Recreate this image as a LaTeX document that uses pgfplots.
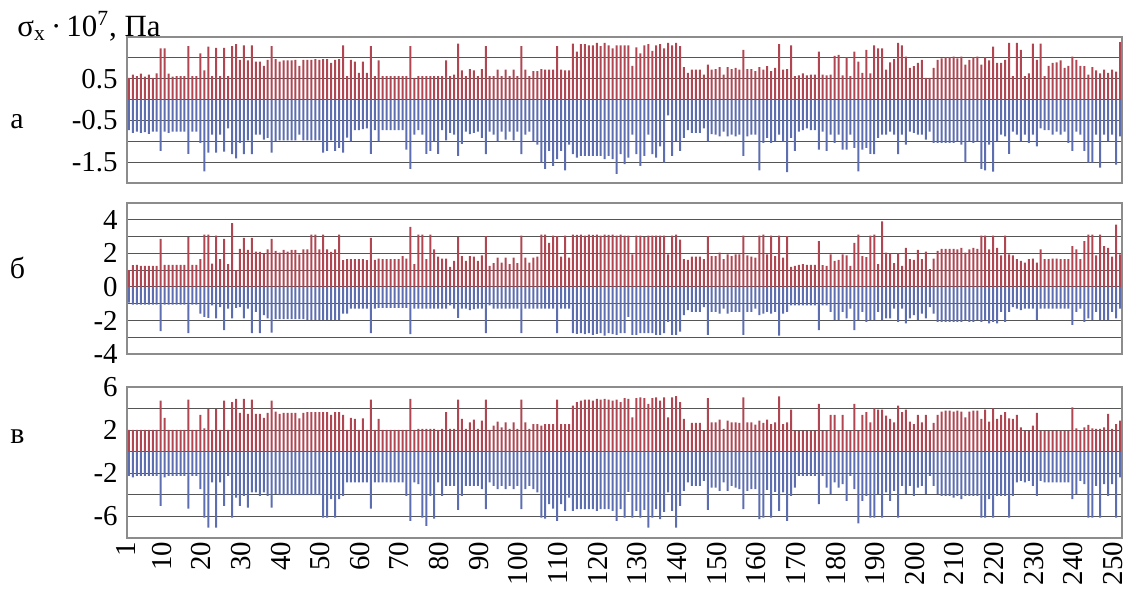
\documentclass[border=0pt]{standalone}
\usepackage{fontspec}
\setmainfont{Liberation Serif}
\usepackage{pgfplots}
\usepackage{pgfplotstable}
\pgfplotsset{compat=1.18}
\definecolor{barred}{RGB}{176,70,82}
\definecolor{barblue}{RGB}{92,110,176}
\definecolor{gridc}{RGB}{85,85,85}
\definecolor{framec}{RGB}{140,140,140}

\pgfplotstableread{
x p n
1 0.52 -0.73
2 0.60 -0.80
3 0.56 -0.77
4 0.62 -0.80
5 0.55 -0.78
6 0.60 -0.82
7 0.52 -0.77
8 0.63 -0.77
9 1.23 -1.23
10 1.23 -0.77
11 0.62 -0.80
12 0.55 -0.77
13 0.56 -0.77
14 0.56 -0.77
15 0.56 -0.77
16 1.28 -1.30
17 0.56 -0.77
18 0.56 -0.77
19 1.11 -1.04
20 0.70 -1.72
21 1.27 -1.27
22 0.56 -0.84
23 1.24 -1.27
24 0.56 -0.84
25 1.24 -1.25
26 0.56 -0.69
27 1.28 -1.31
28 1.33 -1.41
29 0.95 -1.04
30 1.30 -1.31
31 0.94 -0.98
32 1.30 -1.31
33 0.91 -0.84
34 0.91 -0.84
35 0.81 -0.96
36 0.95 -0.92
37 1.28 -1.27
38 0.97 -1.00
39 0.91 -0.98
40 0.94 -0.98
41 0.94 -0.98
42 0.94 -0.98
43 0.95 -0.98
44 0.81 -0.84
45 0.95 -0.98
46 0.95 -0.98
47 0.95 -0.98
48 0.97 -0.98
49 0.95 -0.98
50 0.97 -1.27
51 0.97 -1.23
52 0.88 -0.98
53 0.95 -1.23
54 0.97 -1.16
55 1.30 -1.27
56 0.56 -0.91
57 0.95 -1.00
58 0.91 -0.73
59 0.64 -0.73
60 0.91 -0.71
61 0.64 -0.69
62 1.28 -1.30
63 0.56 -0.73
64 0.94 -1.00
65 0.56 -0.73
66 0.56 -0.73
67 0.56 -0.73
68 0.56 -0.73
69 0.56 -0.73
70 0.56 -0.73
71 0.56 -1.20
72 1.28 -1.66
73 0.52 -0.84
74 0.56 -0.73
75 0.56 -0.84
76 0.56 -1.30
77 0.56 -1.23
78 0.56 -1.00
79 0.56 -1.30
80 0.56 -0.73
81 0.94 -0.98
82 0.56 -0.80
83 0.60 -0.84
84 1.34 -1.35
85 0.70 -1.06
86 0.56 -0.77
87 0.73 -0.83
88 0.70 -0.80
89 0.56 -0.77
90 0.73 -0.92
91 1.28 -1.31
92 0.56 -0.77
93 0.56 -0.84
94 0.72 -1.00
95 0.56 -0.77
96 0.72 -0.96
97 0.56 -0.77
98 0.72 -0.98
99 0.56 -0.77
100 1.28 -1.31
101 0.72 -0.84
102 0.56 -0.77
103 0.68 -1.00
104 0.68 -1.08
105 0.73 -1.51
106 0.72 -1.66
107 0.72 -1.23
108 0.72 -1.59
109 1.28 -1.43
110 0.72 -1.23
111 0.70 -1.70
112 0.70 -1.08
113 1.34 -1.31
114 1.15 -1.39
115 1.33 -1.35
116 1.33 -1.35
117 1.30 -1.35
118 1.30 -1.35
119 1.36 -1.35
120 1.28 -1.35
121 1.36 -1.43
122 1.30 -1.35
123 1.23 -1.43
124 1.30 -1.78
125 1.30 -1.31
126 1.30 -1.55
127 1.30 -1.39
128 0.81 -0.84
129 1.25 -1.31
130 1.11 -1.59
131 1.30 -1.35
132 1.33 -0.84
133 1.17 -1.31
134 1.30 -1.39
135 1.33 -1.12
136 1.23 -1.51
137 1.36 -0.38
138 1.30 -1.35
139 1.36 -1.00
140 1.28 -1.23
141 0.78 -0.92
142 0.64 -0.73
143 0.72 -0.80
144 0.72 -0.80
145 0.72 -0.80
146 0.60 -0.69
147 0.84 -1.00
148 0.72 -0.83
149 0.73 -0.84
150 0.78 -0.88
151 0.60 -0.77
152 0.78 -0.88
153 0.73 -0.84
154 0.76 -0.88
155 0.72 -0.84
156 1.19 -1.35
157 0.73 -0.88
158 0.73 -0.84
159 0.68 -0.84
160 0.78 -1.70
161 0.72 -1.04
162 0.80 -0.92
163 0.68 -1.04
164 0.76 -1.00
165 1.33 -0.84
166 0.72 -1.00
167 0.73 -1.74
168 1.30 -0.92
169 0.56 -1.23
170 0.58 -0.77
171 0.63 -0.73
172 0.58 -0.69
173 0.60 -0.73
174 0.60 -0.73
175 1.15 -1.20
176 0.60 -0.77
177 0.58 -1.23
178 0.60 -0.84
179 1.05 -1.04
180 1.07 -0.84
181 0.58 -1.20
182 1.02 -1.20
183 0.56 -0.84
184 1.15 -1.16
185 0.91 -1.72
186 0.64 -1.20
187 1.19 -1.16
188 0.63 -1.30
189 1.30 -1.31
190 1.23 -0.92
191 1.23 -0.84
192 0.72 -0.84
193 0.89 -0.77
194 0.97 -0.84
195 1.36 -1.31
196 1.30 -0.84
197 1.03 -1.08
198 0.76 -0.77
199 0.80 -0.80
200 0.88 -0.84
201 0.95 -0.84
202 0.52 -0.96
203 0.52 -0.77
204 0.76 -1.04
205 0.95 -1.04
206 0.99 -1.04
207 1.02 -1.04
208 1.02 -1.04
209 1.03 -1.04
210 0.99 -1.00
211 1.03 -1.08
212 0.84 -1.51
213 0.95 -1.00
214 1.02 -1.04
215 1.03 -1.00
216 0.84 -1.66
217 1.02 -1.70
218 0.94 -1.08
219 1.27 -1.73
220 0.88 -1.00
221 0.88 -0.84
222 0.95 -0.88
223 1.36 -1.30
224 0.56 -0.77
225 1.36 -0.84
226 1.19 -1.00
227 0.56 -0.84
228 0.63 -1.04
229 1.34 -0.84
230 0.95 -1.12
231 1.34 -0.69
232 0.56 -0.73
233 0.81 -0.73
234 0.88 -0.84
235 0.89 -0.77
236 0.94 -0.84
237 0.76 -0.77
238 0.81 -1.04
239 1.03 -1.23
240 0.95 -0.77
241 0.81 -0.84
242 0.80 -1.23
243 0.60 -1.51
244 0.78 -1.51
245 0.70 -0.84
246 0.63 -1.63
247 0.72 -0.84
248 0.64 -1.00
249 0.72 -0.84
250 0.67 -1.56
251 1.38 -0.88
}\dataA

\pgfplotstableread{
x p n
1 1.00 -0.94
2 1.29 -1.06
3 1.31 -1.06
4 1.25 -1.06
5 1.25 -1.06
6 1.25 -1.06
7 1.25 -1.06
8 1.25 -1.06
9 2.86 -2.63
10 1.31 -1.06
11 1.31 -1.06
12 1.31 -1.06
13 1.31 -1.06
14 1.31 -1.06
15 1.31 -1.06
16 2.96 -2.76
17 1.31 -1.06
18 1.31 -1.06
19 1.65 -1.59
20 3.12 -1.78
21 3.12 -1.84
22 1.39 -1.10
23 3.06 -1.88
24 1.65 -1.20
25 2.86 -2.57
26 1.35 -1.29
27 3.80 -1.88
28 1.00 -1.25
29 2.27 -1.20
30 2.92 -1.88
31 2.20 -1.29
32 2.92 -2.76
33 2.10 -1.49
34 2.08 -2.76
35 1.98 -1.69
36 2.24 -1.88
37 2.86 -2.73
38 2.14 -1.92
39 2.04 -1.92
40 2.20 -1.92
41 2.10 -1.92
42 2.20 -1.92
43 2.20 -1.92
44 1.94 -1.92
45 2.24 -1.92
46 2.24 -1.98
47 3.12 -1.98
48 3.12 -1.98
49 2.24 -1.98
50 3.12 -1.98
51 2.24 -1.98
52 2.08 -1.98
53 2.24 -1.98
54 3.12 -1.98
55 1.59 -1.59
56 1.65 -1.59
57 1.65 -1.29
58 1.65 -1.29
59 1.65 -1.29
60 1.65 -1.29
61 1.59 -1.29
62 2.92 -2.76
63 1.61 -1.29
64 1.69 -1.25
65 1.65 -1.25
66 1.65 -1.25
67 1.65 -1.25
68 1.65 -1.25
69 1.65 -1.25
70 1.84 -1.25
71 1.69 -1.25
72 3.57 -2.82
73 1.35 -1.29
74 3.12 -1.29
75 3.12 -1.29
76 1.65 -1.29
77 3.12 -1.29
78 2.24 -1.29
79 1.80 -1.29
80 1.69 -1.29
81 1.69 -1.29
82 1.20 -1.10
83 1.55 -1.29
84 2.98 -1.84
85 1.84 -1.29
86 1.55 -1.29
87 1.84 -1.39
88 1.80 -1.33
89 1.55 -1.29
90 1.88 -1.29
91 3.02 -2.76
92 1.25 -1.10
93 1.41 -1.29
94 1.75 -1.29
95 1.45 -1.29
96 1.75 -1.29
97 1.35 -1.29
98 1.75 -1.29
99 1.41 -1.29
100 3.06 -2.76
101 1.75 -1.29
102 1.45 -1.29
103 1.75 -1.29
104 1.80 -1.29
105 3.12 -1.29
106 3.12 -1.29
107 2.63 -1.29
108 3.06 -1.29
109 3.02 -2.76
110 1.80 -1.29
111 3.06 -1.29
112 1.75 -1.29
113 3.12 -2.76
114 3.10 -2.80
115 3.12 -2.76
116 3.06 -2.82
117 3.12 -2.76
118 3.10 -2.86
119 3.12 -2.80
120 3.06 -2.76
121 3.12 -2.90
122 3.10 -2.76
123 3.12 -2.82
124 3.06 -2.86
125 3.12 -2.76
126 3.06 -2.76
127 3.06 -1.78
128 1.94 -2.86
129 3.06 -2.86
130 3.06 -2.76
131 2.98 -2.76
132 3.06 -2.76
133 3.06 -2.76
134 3.06 -2.86
135 3.06 -2.86
136 3.06 -2.76
137 1.94 -2.08
138 3.06 -2.86
139 3.12 -2.86
140 2.82 -2.67
141 1.65 -1.69
142 1.61 -1.39
143 1.80 -1.49
144 1.80 -1.49
145 1.80 -1.49
146 1.65 -1.20
147 3.02 -2.86
148 1.84 -1.49
149 1.84 -1.49
150 2.04 -1.59
151 1.65 -1.29
152 1.94 -1.59
153 1.84 -1.49
154 1.94 -1.49
155 1.94 -1.49
156 3.06 -2.86
157 1.88 -1.49
158 1.80 -1.49
159 1.75 -1.29
160 3.06 -1.69
161 3.12 -1.59
162 1.94 -1.49
163 3.06 -1.59
164 1.84 -1.49
165 3.06 -2.90
166 1.75 -1.59
167 3.02 -1.49
168 1.20 -1.10
169 1.25 -1.10
170 1.31 -1.10
171 1.35 -1.10
172 1.31 -1.10
173 1.31 -1.10
174 1.31 -1.10
175 2.73 -2.57
176 1.29 -1.10
177 1.25 -1.10
178 1.94 -1.49
179 1.55 -1.98
180 1.61 -1.98
181 1.94 -1.49
182 1.88 -1.88
183 1.25 -1.29
184 2.63 -2.57
185 3.12 -1.98
186 1.84 -1.49
187 1.78 -2.08
188 3.06 -1.98
189 3.12 -1.98
190 1.35 -1.49
191 3.90 -1.98
192 2.04 -1.88
193 2.00 -1.88
194 1.41 -1.29
195 2.00 -2.08
196 1.25 -1.29
197 2.33 -2.18
198 1.65 -1.88
199 1.61 -1.69
200 2.20 -1.98
201 1.65 -1.59
202 2.10 -1.88
203 1.06 -1.20
204 1.69 -1.59
205 2.14 -2.08
206 2.27 -2.08
207 2.27 -2.08
208 2.27 -2.08
209 2.27 -2.08
210 2.24 -2.08
211 2.33 -2.08
212 2.04 -1.98
213 2.24 -2.08
214 2.33 -2.08
215 2.27 -1.98
216 3.06 -2.08
217 3.06 -1.98
218 2.24 -2.18
219 3.06 -2.08
220 2.33 -2.18
221 1.88 -1.49
222 3.06 -2.08
223 1.94 -1.49
224 1.88 -1.20
225 1.65 -1.29
226 1.55 -1.39
227 1.45 -1.29
228 1.65 -1.29
229 1.69 -1.29
230 1.45 -1.98
231 2.24 -1.29
232 1.65 -1.29
233 1.65 -1.29
234 1.69 -1.29
235 1.69 -1.29
236 1.65 -1.29
237 1.65 -1.29
238 1.65 -1.29
239 2.43 -2.27
240 2.24 -1.49
241 1.65 -1.29
242 2.73 -2.08
243 3.12 -1.88
244 3.12 -1.98
245 1.88 -1.49
246 3.12 -1.98
247 2.43 -1.98
248 2.33 -1.98
249 1.80 -1.49
250 3.71 -1.88
251 1.94 -1.29
}\dataB

\pgfplotstableread{
x p n
1 2.02 -2.23
2 2.02 -2.39
3 2.02 -2.23
4 2.02 -2.23
5 2.02 -2.23
6 2.02 -2.23
7 2.02 -2.23
8 2.02 -2.23
9 4.74 -5.02
10 3.13 -2.39
11 2.02 -2.23
12 2.02 -2.23
13 2.02 -2.23
14 2.02 -2.23
15 2.02 -2.23
16 4.84 -5.27
17 2.02 -2.23
18 2.02 -2.23
19 3.41 -3.47
20 2.17 -6.11
21 3.97 -7.04
22 2.02 -2.85
23 3.97 -7.04
24 2.02 -2.85
25 4.74 -5.02
26 2.02 -2.23
27 4.59 -6.11
28 4.90 -4.25
29 3.60 -5.02
30 4.90 -4.09
31 3.50 -5.18
32 4.84 -3.78
33 3.50 -3.78
34 3.50 -4.09
35 3.13 -3.78
36 3.60 -4.09
37 4.74 -5.18
38 3.72 -3.94
39 3.50 -4.03
40 3.60 -4.03
41 3.60 -4.03
42 3.60 -4.03
43 3.60 -4.03
44 3.10 -4.03
45 3.60 -4.03
46 3.66 -4.03
47 3.66 -4.03
48 3.66 -4.03
49 3.66 -4.03
50 3.66 -6.11
51 3.66 -6.11
52 3.41 -4.40
53 3.66 -6.11
54 3.66 -4.40
55 3.41 -4.09
56 2.02 -2.85
57 3.13 -2.85
58 3.04 -2.85
59 2.02 -2.85
60 3.10 -2.85
61 2.02 -2.85
62 4.84 -5.27
63 2.02 -2.85
64 3.04 -2.85
65 2.02 -2.85
66 2.02 -2.85
67 2.02 -2.85
68 2.02 -2.85
69 2.02 -2.85
70 2.02 -2.85
71 2.02 -4.09
72 4.90 -6.42
73 2.02 -2.85
74 2.11 -3.01
75 2.11 -6.11
76 2.11 -6.88
77 2.11 -4.09
78 2.11 -6.20
79 2.02 -2.85
80 2.11 -4.09
81 3.66 -3.16
82 2.11 -3.16
83 2.11 -3.16
84 4.84 -5.40
85 3.04 -4.09
86 2.11 -3.16
87 2.73 -3.16
88 2.98 -3.16
89 2.11 -3.16
90 2.88 -3.47
91 4.84 -5.33
92 2.02 -2.85
93 2.42 -3.16
94 2.79 -3.47
95 2.26 -3.16
96 2.73 -3.47
97 2.11 -3.16
98 2.73 -3.47
99 2.11 -3.16
100 4.84 -5.33
101 2.73 -3.47
102 2.11 -3.16
103 2.57 -3.47
104 2.57 -3.78
105 2.42 -6.11
106 2.57 -6.20
107 2.57 -4.87
108 2.57 -5.27
109 4.84 -6.42
110 2.57 -4.87
111 2.57 -5.49
112 2.57 -4.25
113 4.28 -5.49
114 4.59 -5.33
115 4.74 -5.33
116 4.84 -5.33
117 4.84 -5.33
118 4.74 -5.33
119 4.90 -5.49
120 4.84 -5.33
121 4.90 -5.33
122 4.84 -5.33
123 4.74 -5.49
124 4.84 -6.42
125 4.59 -5.33
126 4.96 -6.11
127 4.90 -3.72
128 3.19 -6.11
129 4.96 -5.49
130 5.05 -6.11
131 4.96 -5.40
132 4.43 -7.04
133 4.96 -6.11
134 5.05 -5.33
135 4.74 -6.26
136 5.05 -5.58
137 3.19 -3.78
138 5.05 -5.49
139 5.15 -7.04
140 4.59 -5.02
141 3.04 -3.63
142 1.95 -2.85
143 2.67 -3.16
144 2.67 -3.16
145 2.67 -3.16
146 1.95 -2.70
147 4.96 -5.40
148 2.73 -3.32
149 2.73 -3.32
150 2.98 -3.63
151 2.11 -2.85
152 2.88 -3.63
153 2.73 -3.16
154 2.73 -3.32
155 2.67 -3.47
156 5.05 -5.33
157 2.73 -3.63
158 2.73 -3.47
159 2.51 -3.47
160 2.88 -6.26
161 2.67 -6.11
162 2.98 -3.53
163 2.57 -6.11
164 2.73 -3.72
165 5.12 -5.49
166 2.57 -3.78
167 2.73 -6.42
168 3.91 -4.09
169 1.95 -3.32
170 1.95 -2.23
171 1.95 -2.23
172 1.95 -2.23
173 1.95 -2.23
174 1.95 -2.23
175 4.43 -4.87
176 1.95 -2.23
177 1.95 -3.32
178 3.41 -3.94
179 3.41 -2.85
180 1.95 -3.32
181 3.41 -3.01
182 1.95 -4.56
183 1.95 -2.23
184 4.43 -3.47
185 1.95 -6.64
186 3.41 -4.56
187 3.66 -4.09
188 2.73 -6.11
189 4.03 -6.11
190 3.91 -3.94
191 3.91 -6.11
192 3.35 -3.78
193 3.04 -4.56
194 2.73 -3.63
195 4.28 -6.11
196 3.66 -3.16
197 3.91 -3.94
198 2.79 -3.16
199 2.57 -4.09
200 3.41 -3.32
201 2.73 -3.16
202 3.41 -3.94
203 1.95 -2.23
204 2.67 -3.16
205 3.41 -3.94
206 3.72 -4.09
207 3.81 -4.09
208 3.81 -4.09
209 3.72 -4.25
210 3.81 -4.09
211 3.72 -4.40
212 3.19 -4.09
213 3.72 -4.09
214 3.81 -4.09
215 3.81 -4.09
216 3.04 -6.11
217 3.91 -6.11
218 2.79 -4.40
219 4.03 -6.11
220 3.04 -4.09
221 3.41 -4.09
222 3.66 -4.09
223 3.10 -6.11
224 3.04 -4.09
225 3.41 -2.85
226 2.26 -2.70
227 1.95 -2.85
228 1.95 -2.70
229 2.42 -3.16
230 3.60 -4.09
231 1.95 -2.70
232 1.95 -2.85
233 1.95 -2.85
234 1.95 -2.85
235 1.95 -2.85
236 1.95 -2.85
237 1.95 -2.85
238 1.95 -2.85
239 4.12 -4.40
240 2.17 -3.94
241 1.95 -2.70
242 2.26 -3.01
243 2.48 -6.11
244 2.17 -6.11
245 2.11 -3.16
246 2.11 -6.11
247 2.26 -3.01
248 3.50 -4.09
249 2.11 -3.01
250 2.57 -6.11
251 2.88 -2.39
}\dataC

\pgfplotsset{
  panel/.style={
    scale only axis,
    width=497.5bp,
    xmin=0.5, xmax=251.5,
    anchor=north west,
    axis line style={framec, line width=0.6bp},
    ymajorgrids, yminorgrids,
    major grid style={gridc, line width=0.6bp},
    minor grid style={gridc, line width=0.6bp},
    major tick length=0pt, minor tick length=0pt,
    tick style={draw=none},
    tick label style={font=\fontsize{14.5}{16}\selectfont},
    yticklabel style={inner sep=0pt, xshift=-4.5bp},
    /pgf/number format/assume math mode=true,
  },
  posbar/.style={ybar, bar width=1.0bp, bar shift=0pt, draw=none, fill=barred},
  negbar/.style={ybar, bar width=1.0bp, bar shift=0pt, draw=none, fill=barblue},
}

\begin{document}
\begin{tikzpicture}
\useasboundingbox (0,0) rectangle (563.5bp,-295bp);

\begin{axis}[panel, at={(63.5bp,-18.5bp)}, height=73bp,
  ymin=-2, ymax=1.5,
  ytick={-1.5,-0.5,0.5}, yticklabels={-1.5,-0.5,0.5},
  minor ytick={-1,0,1},
  xtick=\empty]
\addplot[posbar] table[x=x, y=p] {\dataA};
\addplot[negbar] table[x=x, y=n] {\dataA};
\end{axis}

\begin{axis}[panel, at={(63.5bp,-101.5bp)}, height=75.5bp,
  ymin=-4, ymax=5,
  ytick={-4,-2,0,2,4}, yticklabels={-4,-2,0,2,4},
  minor ytick={-3,-1,1,3},
  xtick=\empty]
\addplot[posbar] table[x=x, y=p] {\dataB};
\addplot[negbar] table[x=x, y=n] {\dataB};
\end{axis}

\begin{axis}[panel, at={(63.5bp,-193.5bp)}, height=75.5bp,
  ymin=-8, ymax=6,
  ytick={-6,-2,2,6}, yticklabels={-6,-2,2,6},
  minor ytick={-4,0,4},
  xtick={1,10,20,30,40,50,60,70,80,90,100,110,120,130,140,150,160,170,180,190,200,210,220,230,240,250},
  xticklabels={1,10,20,30,40,50,60,70,80,90,100,110,120,130,140,150,160,170,180,190,200,210,220,230,240,250},
  xticklabel style={xshift=-1.5bp, yshift=-1.8bp, rotate=90, anchor=east, inner sep=0pt}]
\addplot[posbar] table[x=x, y=p] {\dataC};
\addplot[negbar] table[x=x, y=n] {\dataC};
\end{axis}

\node[anchor=base west, inner sep=0pt, font=\fontsize{15.5}{17}\selectfont] at (8.5bp,-18bp) {σ\textsubscript{x}\,·\,10\textsuperscript{7}, Па};
\node[inner sep=0pt, font=\fontsize{15}{17}\selectfont] at (8.5bp,-61bp) {а};
\node[inner sep=0pt, font=\fontsize{15}{17}\selectfont] at (8.75bp,-134bp) {б};
\node[inner sep=0pt, font=\fontsize{15}{17}\selectfont] at (8.75bp,-218.5bp) {в};
\end{tikzpicture}
\end{document}
